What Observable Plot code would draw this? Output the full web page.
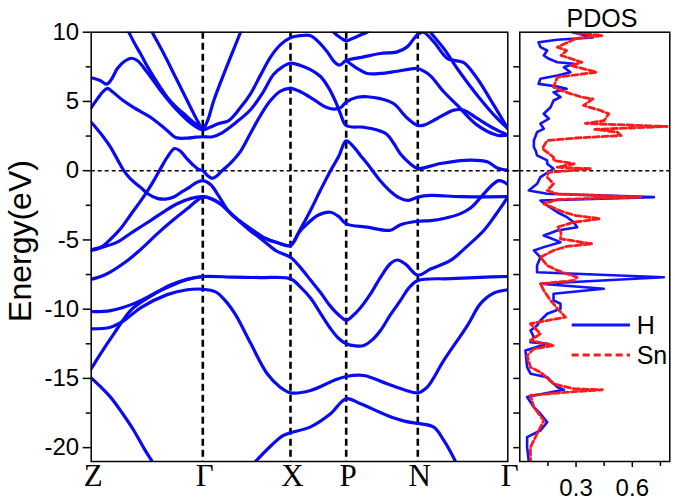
<!DOCTYPE html>
<html><head><meta charset="utf-8">
<script src="https://cdn.jsdelivr.net/npm/d3@7"></script>
<script src="https://cdn.jsdelivr.net/npm/@observablehq/plot@0.6"></script>
<style>
body{margin:0;background:#fff;}
#wrap{position:relative;width:675px;height:501px;overflow:hidden;font-family:"Liberation Sans",Arial,sans-serif;background:#fff;}
#left{position:absolute;left:0;top:0;}
#right{position:absolute;left:505px;top:0;}
#ylab{position:absolute;left:0;top:0;}
#ptitle{position:absolute;left:552px;top:6px;width:100px;text-align:center;font-size:25px;line-height:25px;color:#000;}
#legend{position:absolute;left:565px;top:305px;}
</style></head><body>
<div id="wrap">
<div id="left"></div><div id="right"></div>
<svg id="ylab" width="60" height="501"><text transform="translate(31,241) rotate(-90)" text-anchor="middle" font-size="32" font-family="Liberation Sans, Arial, sans-serif" fill="#000">Energy(eV)</text></svg>
<div id="ptitle">PDOS</div>
<div id="legend"><svg width="110" height="70" style="overflow:visible">
<line x1="6.7" y1="20" x2="65" y2="20" stroke="#1212ff" stroke-width="2.8"/>
<text x="71.7" y="29" font-size="25" font-family="Liberation Sans, Arial, sans-serif">H</text>
<line x1="6.7" y1="50" x2="65" y2="50" stroke="#ff1a1a" stroke-width="3" stroke-dasharray="7,4"/>
<text x="71.7" y="59" font-size="25" font-family="Liberation Sans, Arial, sans-serif">Sn</text>
</svg></div>
</div>
<script>
// high-symmetry points along the k-path
const kPos = [0, 111.6, 199.3, 255, 326.6, 416.6];
const kLab = ["Z", "Γ", "X", "P", "N", "Γ"];
const yMajor = [-20, -15, -10, -5, 0, 5, 10];
const yMinor = [-17.5, -12.5, -7.5, -2.5, 2.5, 7.5];
const pdosYTicks = [-20, -17.5, -15, -12.5, -10, -7.5, -5, -2.5, 0, 2.5, 5, 7.5];
const pdosXMajor = [0.3, 0.6];
const pdosXMinor = [0.15, 0.45, 0.75];

// bands: [k, E(eV)]
const band1 = [[0,-14.96],[9.3,-15.6],[19.3,-16.35],[31,-17.5],[42.6,-18.76],[54,-20.2],[61,-21],[68,-21.8]];
const band2 = [[154.3,-21.8],[164.3,-21],[179.3,-19.9],[191.3,-19.15],[199.3,-18.93],[219.3,-18.5],[239.3,-17.55],[255,-16.47],[269.3,-16.83],[296,-17.67],[314.3,-18.1],[326.6,-18.25],[342.6,-18.52],[352.6,-19.48],[364.3,-21],[369.3,-21.8]];
const band3 = [[0,-11.42],[19.3,-11.3],[32.3,-10.85],[49.3,-9.9],[76,-8.95],[96,-8.6],[111.6,-8.56],[124.3,-8.75],[134.3,-9.4],[144.3,-10.4],[159.3,-12.45],[176,-14.66],[189.3,-15.65],[199.3,-16.04],[219.3,-15.87],[242.6,-15.15],[255,-14.86],[272.6,-14.79],[296,-15.39],[314.3,-15.85],[326.6,-16.04],[336,-15.63],[352.6,-13.7],[376,-11.2],[389.3,-9.6],[402.3,-8.85],[416.6,-8.6]];
const band4 = [[0,-10.17],[19.3,-10.1],[42.6,-9.6],[69.3,-8.65],[96,-7.85],[111.6,-7.64],[142.6,-7.69],[169.3,-7.72],[199.3,-7.8],[209.3,-8.41],[219.3,-9.2],[229.3,-10.3],[239.3,-11.4],[247.3,-12.1],[255,-12.5],[264.3,-12.65],[272.6,-12.62],[281.3,-12.2],[289.3,-11.54],[299.3,-10.4],[309.3,-9.37],[317.3,-8.5],[326.6,-7.93],[359.3,-7.8],[389.3,-7.7],[416.6,-7.64]];
const band5 = [[0,-14.3],[9.3,-13.22],[22.6,-11.78],[39.3,-10.1],[52.6,-9.37],[64.3,-8.85],[79.3,-8.25],[96,-7.85],[111.6,-7.64]];
const band6 = [[0,-7.85],[14.3,-7.5],[36,-6.5],[49.3,-5.7],[66,-4.56],[81.3,-3.6],[96,-2.75],[105,-2.2],[111.6,-1.91],[119.3,-2.0],[129.3,-2.4],[144.3,-3.4],[159.3,-4.2],[174.3,-4.9],[186.3,-5.2],[199.3,-5.4],[209.3,-4.2],[219.3,-2.87],[229.3,-1.4],[239.3,0.0],[247.3,1.0],[255,2.15],[262,1.75],[269.3,1.1],[279.3,0.2],[289.3,-0.75],[299.3,-1.5],[309.3,-2.0],[317.3,-2.15],[326.6,-1.91],[339.3,-1.79],[369.3,-1.88],[416.6,-1.88]];
const band7 = [[0,-5.71],[12,-5.5],[26,-5.16],[42,-4.4],[59.3,-3.6],[74,-2.9],[86,-2.39],[100,-2.0],[111.6,-1.88],[119.3,-2.0],[129.3,-2.4],[144.3,-3.4],[159.3,-4.2],[174.3,-4.9],[186.3,-5.2],[199.3,-5.4],[207.3,-4.5],[216,-3.84],[227.3,-3.2],[239.3,-3.0],[247.3,-3.3],[255,-3.84],[276,-4.08],[299.3,-4.3],[309.3,-3.9],[326.6,-3.65],[339.3,-3.6],[352.6,-3.45],[369.3,-3.1],[379.3,-2.7],[389.3,-1.95],[396,-1.4],[402.3,-0.95],[407.3,-0.72],[412.3,-0.8],[416.6,-1.0]];
const band8 = [[0,-5.76],[9.3,-5.55],[19.3,-4.95],[29.3,-4.2],[39.3,-3.2],[49.3,-2.2],[56.3,-1.45],[62.3,-0.75],[69.3,0.15],[76.3,1.0],[83.3,1.6],[89.3,1.4],[95.3,0.9],[101.3,0.45],[107.3,0.1],[111.6,0.0],[116.3,-0.35],[121,-0.55],[125.3,-0.4],[131,0.0],[139.3,0.55],[149.3,1.4],[159.3,2.7],[169.3,4.0],[179.3,5.07],[189.3,5.75],[199.3,5.95],[209.3,5.7],[222.3,5.15],[234.3,4.6],[242.3,4.45],[249.3,4.55],[255,4.95],[266,5.3],[276,5.34],[289.3,5.2],[302.3,4.85],[316,3.8],[326.6,3.26],[332.6,3.29],[346,3.77],[362.6,4.37],[372.6,4.37],[386,3.77],[402.6,3.05],[416.6,2.56]];
const band9 = [[0,3.5],[9.3,2.7],[19.3,1.7],[26.3,0.8],[32.6,0.0],[39.3,-0.6],[49.3,-1.2],[57.3,-1.7],[66,-2.0],[74.3,-2.05],[82.6,-1.9],[91.3,-1.5],[99.3,-1.15],[105.3,-0.85],[111.6,-0.72],[119.3,-1.0],[127.3,-1.8],[136,-2.8],[147.3,-3.6],[159.3,-4.35],[171.3,-5.0],[185.3,-5.8],[199.3,-6.25],[209.3,-7.0],[219.3,-7.9],[229.3,-8.8],[239.3,-9.8],[247.3,-10.4],[255,-10.8],[261.3,-10.5],[269.3,-9.9],[279.3,-8.9],[289.3,-7.7],[299.3,-6.7],[306.3,-6.45],[314.3,-6.75],[326.6,-7.55],[339.3,-7.1],[359.3,-6.48],[375.3,-5.5],[392.6,-4.32],[404.3,-3.2],[416.6,-1.91]];
const band10 = [[0,4.54],[6.3,5.2],[12.3,5.75],[16.3,5.95],[21.3,5.7],[31.3,5.1],[42.6,4.55],[59.3,3.86],[76,2.9],[84.3,2.4],[96,2.35],[104.3,2.42],[111.6,2.45],[121.3,2.45],[131.3,2.75],[144.3,3.45],[159.3,4.4],[171.3,5.6],[182.3,6.95],[191.3,7.5],[199.3,7.76],[209.3,7.6],[219.3,7.3],[229.3,6.8],[237.3,6.0],[244.3,5.0],[249.3,4.1],[255,3.26],[272.3,3.14],[285.3,2.95],[296,2.6],[302.3,2.0],[309.3,1.21],[319.3,0.49],[326.6,0.16],[349.3,0.52],[379.3,0.76],[396,0.64],[406,0.2],[416.6,0.04]];
const band11 = [[0,6.71],[9.3,6.5],[15.3,6.25],[20.3,6.6],[26,7.36],[33.3,7.9],[40.3,8.12],[46,7.96],[56,7.11],[69.3,5.79],[86,4.35],[102.6,3.26],[111.6,2.95],[119.3,3.15],[127.6,3.4],[137.6,3.62],[149.3,4.56],[159.3,5.55],[169.3,6.9],[179.3,8.2],[189.3,9.1],[199.3,9.6],[209.3,9.75],[219.3,9.75],[227.3,9.3],[236,8.58],[243.3,7.85],[248.3,7.62],[255,7.95],[272.6,8.22],[289.3,8.46],[306,8.58],[316,8.94],[321.3,9.4],[326.6,9.85],[332.3,10.0],[342.6,9.3],[356,8.1],[364.3,7.95],[372.6,7.8],[386,6.66],[402.6,4.73],[416.6,3.05]];
const band12 = [[33.3,10.6],[37.6,10.0],[43.3,9.2],[49.3,8.44],[56,7.55],[62.6,6.75],[69.3,6.0],[76,5.31],[84.3,4.65],[92.6,4.11],[101.3,3.55],[111.6,3.02]];
const band13 = [[56.8,10.6],[61,10.0],[72.6,8.44],[86,6.51],[99.3,4.58],[106.3,3.6],[111.6,3.0],[116.3,3.6],[122.6,5.07],[136,7.6],[149.3,10.0],[152.3,10.6]];
const band14 = [[237.3,10.5],[242.3,10.0],[249.3,9.6],[255,9.38],[261.3,9.55],[269.3,9.8],[276,10.0],[281.3,10.4]];
const band15 = [[255,7.95],[266,7.38],[276,7.02],[289.3,7.02],[306,7.18],[326.6,7.38],[332.3,7.2],[339.3,6.85],[352.6,5.7],[366,4.73],[386,3.29],[406,2.56],[416.6,2.56]];
const band16 = [[334.3,10.6],[339.3,10.0],[352.6,8.82],[366,7.38],[386,5.45],[406,3.77],[416.6,3.05]];

// PDOS (states/eV) vs energy
const hE = [10.0,9.83,9.62,9.45,9.28,8.92,8.68,8.32,8.08,7.83,7.72,7.47,7.11,6.87,6.64,6.27,6.08,5.91,5.67,5.31,5.07,4.58,4.11,3.75,3.39,3.03,2.78,2.18,1.7,1.46,1.1,0.74,0.5,0.14,-0.47,-0.95,-1.43,-1.67,-1.91,-2.15,-2.51,-3.0,-3.36,-3.72,-4.08,-4.32,-4.68,-5.16,-5.52,-5.76,-6.25,-6.84,-7.33,-7.69,-8.17,-8.53,-8.89,-9.37,-9.61,-9.97,-10.33,-10.82,-11.18,-11.54,-12.02,-12.38,-12.5,-12.98,-14.19,-14.66,-14.91,-15.63,-15.82,-16.23,-16.35,-17.08,-17.55,-18.16,-18.76,-19.24,-19.96,-21.0];
const hV = [0.28,0.33,0.39,0.2,0.1,0.11,0.146,0.128,0.155,0.2,0.288,0.235,0.27,0.2,0.11,0.1,0.2,0.25,0.18,0.217,0.18,0.164,0.128,0.155,0.11,0.128,0.092,0.075,0.075,0.084,0.092,0.146,0.146,0.18,0.11,0.092,0.048,0.146,0.715,0.11,0.146,0.2,0.252,0.288,0.306,0.2,0.128,0.217,0.128,0.075,0.11,0.092,0.092,0.768,0.11,0.448,0.18,0.18,0.217,0.217,0.146,0.11,0.092,0.057,0.075,0.057,0.146,0.03,0.039,0.057,0.146,0.2,0.235,0.075,0.039,0.075,0.11,0.146,0.11,0.039,0.039,0.048];
const snE = [9.95,9.88,9.76,9.55,8.92,8.68,8.32,7.83,7.6,7.11,6.75,6.03,5.65,5.31,5.19,4.71,4.35,4.11,3.62,3.41,3.19,2.98,2.78,2.54,2.36,2.18,1.6,0.97,0.74,0.5,0.25,0.14,-0.13,-0.47,-0.95,-1.43,-1.68,-1.91,-2.08,-2.39,-3.0,-3.24,-3.47,-3.72,-4.08,-4.46,-4.92,-5.28,-5.47,-5.76,-6.25,-6.84,-7.2,-7.45,-7.69,-7.93,-8.17,-8.65,-9.37,-9.95,-10.58,-10.82,-11.05,-11.78,-12.26,-12.62,-12.86,-13.34,-14.19,-14.55,-15.39,-15.75,-15.82,-15.99,-16.23,-17.08,-18.04,-19.0,-19.96,-21.0];
const snV = [0.3,0.36,0.44,0.3,0.2,0.25,0.22,0.332,0.27,0.41,0.2,0.18,0.25,0.33,0.39,0.34,0.43,0.475,0.45,0.35,0.786,0.4,0.52,0.54,0.3,0.146,0.12,0.18,0.18,0.29,0.2,0.377,0.15,0.146,0.18,0.146,0.2,0.644,0.2,0.128,0.235,0.3,0.43,0.288,0.2,0.22,0.217,0.386,0.25,0.18,0.11,0.146,0.2,0.252,0.306,0.288,0.11,0.128,0.164,0.2,0.244,0.146,0.057,0.11,0.057,0.18,0.075,0.039,0.057,0.11,0.18,0.288,0.44,0.252,0.057,0.075,0.128,0.092,0.057,0.057];

const bandList = [band1,band2,band3,band4,band5,band6,band7,band8,band9,band10,band11,band12,band13,band14,band15,band16];
const bandRows = bandList.flatMap((pts, i) => pts.map(([k, E]) => ({k, E, band: i})));
const hRows = hE.map((E, i) => ({E, v: hV[i]}));
const snRows = snE.map((E, i) => ({E, v: snV[i]}));
const kLabelOf = new Map(kPos.map((k, i) => [k, kLab[i]]));

const BLUE = "#0a0af2";
const sans = "Liberation Sans, Arial, sans-serif";

const left = Plot.plot({
  width: 510, height: 501,
  marginLeft: 90.7, marginRight: 2.7, marginTop: 31.7, marginBottom: 40,
  x: {domain: [0, 416.6], axis: null, label: null},
  y: {domain: [-21, 10], axis: null, label: null},
  style: {fontFamily: sans, background: "transparent", overflow: "visible", color: "black"},
  marks: [
    Plot.ruleX(kPos.slice(1, -1), {stroke: "black", strokeWidth: 2.6, strokeDasharray: "7,4"}),
    Plot.ruleY([0], {stroke: "black", strokeWidth: 1.6, strokeDasharray: "4,3"}),
    Plot.line(bandRows, {x: "k", y: "E", z: "band", stroke: BLUE, strokeWidth: 3.2, curve: "catmull-rom", clip: true}),
    Plot.frame({stroke: "black", strokeWidth: 1.5}),
    Plot.axisY(yMajor, {tickSize: 8, tickPadding: 4, fontSize: 24, tickFormat: d => String(d), label: null, strokeWidth: 1.5}),
    Plot.axisY(yMinor, {tickSize: 5, tickFormat: () => "", label: null, strokeWidth: 1.5}),
    Plot.axisX(kPos, {tickSize: 0, tickPadding: 2, dx: 2, fontSize: 31, fontFamily: "Liberation Serif, Times New Roman, serif", tickFormat: d => kLabelOf.get(d), label: null})
  ]
});
document.getElementById("left").appendChild(left);

const right = Plot.plot({
  width: 170, height: 501,
  marginLeft: 14.3, marginRight: 5.7, marginTop: 31.7, marginBottom: 40,
  x: {domain: [0, 0.8], axis: null, label: null},
  y: {domain: [-21, 10], axis: null, label: null},
  style: {fontFamily: sans, background: "transparent", overflow: "visible", color: "black"},
  marks: [
    Plot.ruleY([0], {stroke: "black", strokeWidth: 1.6, strokeDasharray: "4,3", insetLeft: -14}),
    Plot.line(hRows, {x: "v", y: "E", stroke: "#1212ff", strokeWidth: 2.6, clip: true}),
    Plot.line(snRows, {x: "v", y: "E", stroke: "#ff1a1a", strokeWidth: 2.8, strokeDasharray: "6,3", clip: true}),
    Plot.frame({stroke: "black", strokeWidth: 1.5}),
    Plot.axisY(pdosYTicks, {tickSize: 6, tickFormat: () => "", label: null, strokeWidth: 1.5}),
    Plot.axisX(pdosXMajor, {tickSize: 6, tickPadding: 11, fontSize: 24, tickFormat: d => String(d), label: null, strokeWidth: 1.5}),
    Plot.axisX(pdosXMinor, {tickSize: 5, tickFormat: () => "", label: null, strokeWidth: 1.5})
  ]
});
document.getElementById("right").appendChild(right);
</script>
</body></html>
